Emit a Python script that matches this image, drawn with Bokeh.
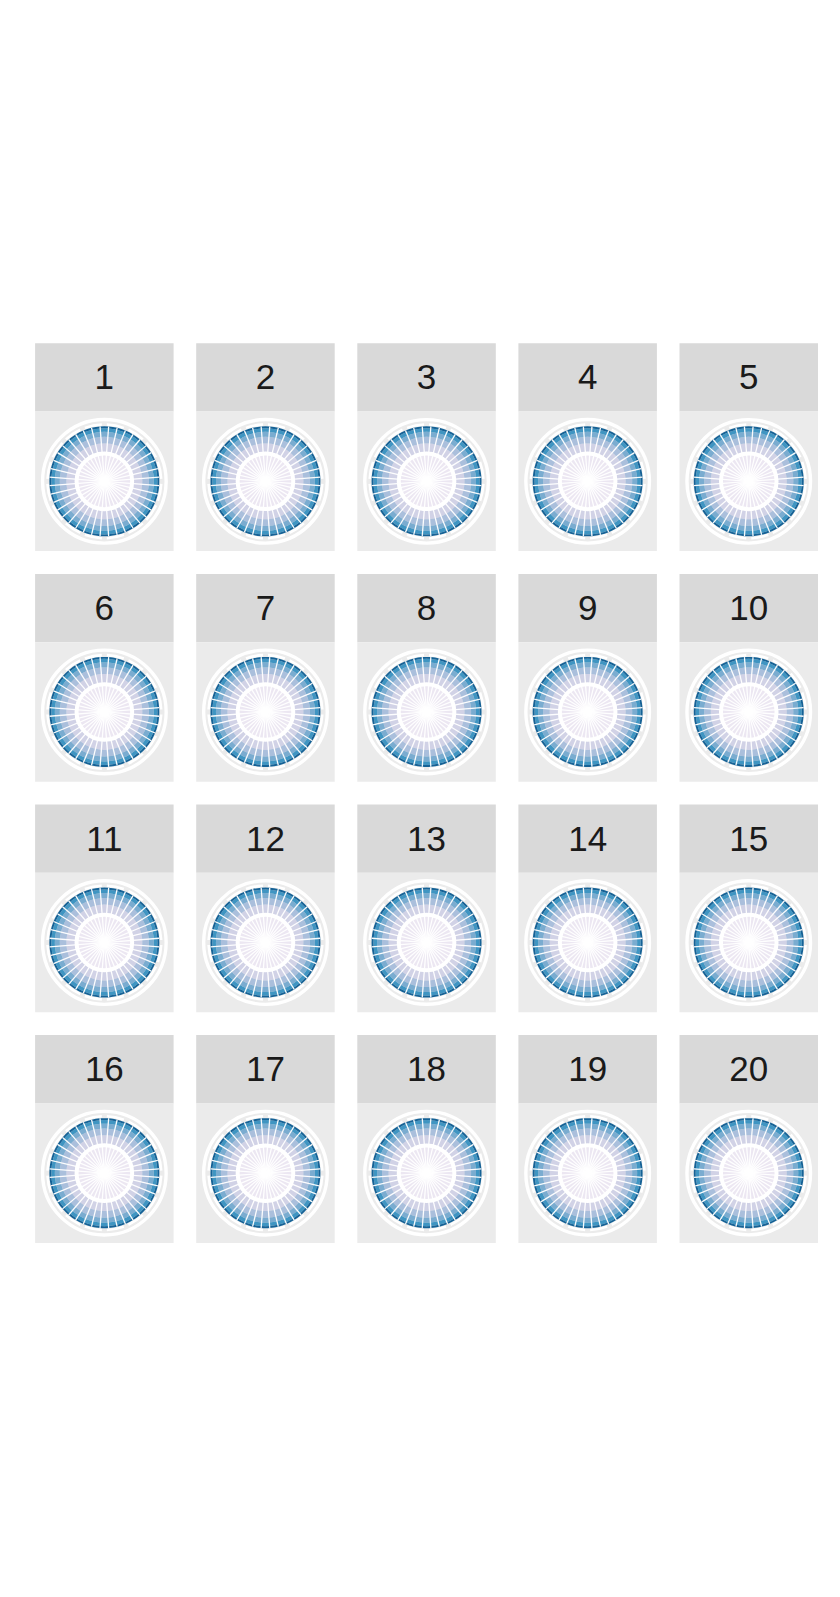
import numpy as np
from bokeh.plotting import figure
from bokeh.models import Range1d, ColumnDataSource
from bokeh.core.properties import value
from bokeh.embed import file_html
from bokeh.resources import INLINE

# ---------------- data ----------------
panel_labels = [str(i) for i in range(1, 21)]
categories = ["C%02d" % i for i in range(1, 41)]          # 40 theta categories per panel
segment_levels = ["s1", "s2", "s3", "s4", "s5", "s6"]
segment_shares = [0.50, 0.19, 0.12, 0.09, 0.065, 0.035]    # stacked (filled) shares, inner -> outer
segment_colors = ["#ece7f2", "#d0d1e6", "#a6bddb", "#74a9cf", "#3690c0", "#0a5b91"]
theta_label_count = 16                                     # outer tick-label ring gaps

# ---------------- layout ----------------
W, H = 840, 1597
n_cols = 5
col_left0, col_pitch, panel_w = 34.6, 161.1, 138.5
row_top0, row_pitch, strip_h, panel_h = 342.8, 230.6, 68.3, 139.5
R_bar = 55.0
R_grid_inner = 27.8
R_dash_in, R_dash_out = 55.6, 58.2
R_outer = 61.8

p = figure(width=W, height=H, output_backend="svg", toolbar_location=None,
           x_range=Range1d(0, W), y_range=Range1d(0, H), min_border=0)
p.axis.visible = False
p.grid.visible = False
p.outline_line_color = None
p.background_fill_color = "white"
p.border_fill_color = "white"

def Y(y):
    return H - y

n_cat = len(categories)
step = 2 * np.pi / n_cat
cum = np.concatenate([[0.0], np.cumsum(segment_shares)])
total = cum[-1]

bg = dict(x=[], y=[], w=[], h=[], c=[])
txt = dict(x=[], y=[], t=[])
wed = dict(x=[], y=[], ri=[], ro=[], sa=[], ea=[], c=[])
spk = dict(x0=[], y0=[], x1=[], y1=[])
cx_l, cy_l = [], []
dash = dict(x=[], y=[], sa=[], ea=[])

for k, lab in enumerate(panel_labels):
    r, c = divmod(k, n_cols)
    left = col_left0 + c * col_pitch
    top = row_top0 + r * row_pitch
    # strip
    bg["x"].append(left + panel_w / 2); bg["y"].append(Y(top + strip_h / 2))
    bg["w"].append(panel_w); bg["h"].append(strip_h); bg["c"].append("#d9d9d9")
    # panel
    bg["x"].append(left + panel_w / 2); bg["y"].append(Y(top + strip_h + panel_h / 2))
    bg["w"].append(panel_w); bg["h"].append(panel_h); bg["c"].append("#ebebeb")
    txt["x"].append(left + panel_w / 2); txt["y"].append(Y(top + strip_h / 2)); txt["t"].append(lab)

    cx = left + panel_w / 2
    cy = Y(top + strip_h + panel_h / 2)
    cx_l.append(cx); cy_l.append(cy)
    for j, cat in enumerate(categories):
        a_center = np.pi / 2 - j * step
        sa = a_center - step / 2
        ea = a_center + step / 2
        for s in range(len(segment_shares)):
            wed["x"].append(cx); wed["y"].append(cy)
            wed["ri"].append(R_bar * cum[s] / total)
            wed["ro"].append(R_bar * cum[s + 1] / total)
            wed["sa"].append(sa); wed["ea"].append(ea)
            wed["c"].append(segment_colors[s])
        spk["x0"].append(cx); spk["y0"].append(cy)
        spk["x1"].append(cx + R_bar * np.cos(sa)); spk["y1"].append(cy + R_bar * np.sin(sa))
    gstep = 2 * np.pi / theta_label_count
    gap = np.radians(5.0)
    for g in range(theta_label_count):
        a0 = np.pi / 2 + g * gstep + gap / 2
        dash["x"].append(cx); dash["y"].append(cy)
        dash["sa"].append(a0); dash["ea"].append(a0 + gstep - gap)

p.rect("x", "y", "w", "h", source=ColumnDataSource(bg), fill_color="c", line_color=None)
p.text("x", "y", text="t", source=ColumnDataSource(txt), text_align="center",
       text_baseline="middle", text_font=value("Liberation Sans"),
       text_font_size="35px", text_color="#1a1a1a")

# outer white ring (full circle) and dashed label ring
p.circle(cx_l, cy_l, radius=R_outer, fill_color=None, line_color="white", line_width=3.4)
p.annular_wedge("x", "y", inner_radius=R_dash_in, outer_radius=R_dash_out,
                start_angle="sa", end_angle="ea", source=ColumnDataSource(dash),
                fill_color="white", line_color=None)

# stacked polar bars
p.annular_wedge("x", "y", inner_radius="ri", outer_radius="ro", start_angle="sa", end_angle="ea",
                source=ColumnDataSource(wed), fill_color="c", fill_alpha=0.95, line_color=None)
# spokes between bars
p.segment("x0", "y0", "x1", "y1", source=ColumnDataSource(spk), line_color="white",
          line_width=1.3, line_alpha=0.95)
# inner y grid circle
p.circle(cx_l, cy_l, radius=R_grid_inner, fill_color=None, line_color="white", line_width=4.0)

open("out.html", "w").write(file_html(p, INLINE))
